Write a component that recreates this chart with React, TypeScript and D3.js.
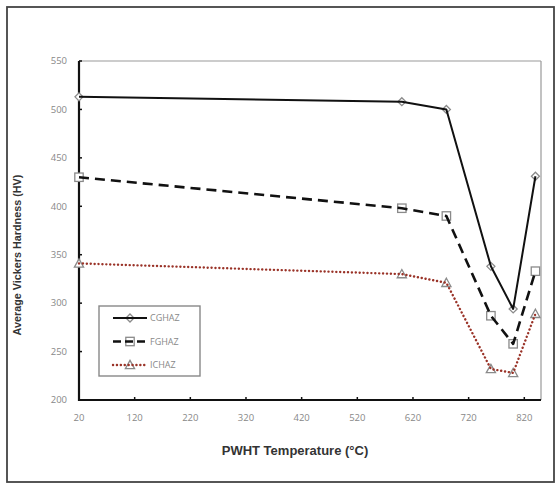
import React from "react";
import * as d3 from "d3";

const temps = [20, 600, 680, 760, 800, 840];
const cghaz = [513, 508, 500, 338, 294, 431];
const fghaz = [430, 398, 390, 287, 258, 333];
const ichaz = [341, 330, 321, 232, 228, 289];
const xTicks = [20, 120, 220, 320, 420, 520, 620, 720, 820];
const yTicks = [200, 250, 300, 350, 400, 450, 500, 550];
const seriesNames = ["CGHAZ", "FGHAZ", "ICHAZ"];

const W = 555, H = 484;
const M = { left: 79, right: 541, top: 61, bottom: 400 };

function marker(kind: string, x: number, y: number, key: string) {
  const stroke = "#8a8a8a";
  if (kind === "diamond") {
    const s = 4;
    return <path key={key} d={`M${x},${y - s}L${x + s},${y}L${x},${y + s}L${x - s},${y}Z`} fill="#fff" stroke={stroke} strokeWidth={1.3} />;
  }
  if (kind === "square") {
    const s = 4.2;
    return <rect key={key} x={x - s} y={y - s} width={2 * s} height={2 * s} fill="#fff" stroke={stroke} strokeWidth={1.3} />;
  }
  const s = 4.6;
  return <path key={key} d={`M${x},${y - s}L${x + s},${y + s * 0.8}L${x - s},${y + s * 0.8}Z`} fill="#fff" stroke={stroke} strokeWidth={1.3} />;
}

export default function App() {
  const x = d3.scaleLinear().domain([20, 850]).range([M.left, M.right]);
  const y = d3.scaleLinear().domain([200, 550]).range([M.bottom, M.top]);
  const line = d3.line<number>().x((_, i) => x(temps[i])).y((d) => y(d));

  const series = [
    { name: seriesNames[0], data: cghaz, color: "#111", dash: undefined as string | undefined, width: 2, marker: "diamond", cap: "butt" },
    { name: seriesNames[1], data: fghaz, color: "#111", dash: "10 6", width: 2.6, marker: "square", cap: "butt" },
    { name: seriesNames[2], data: ichaz, color: "#9a3328", dash: "0.1 3.8", width: 2.4, marker: "triangle", cap: "round" },
  ];

  const tickFont = "'Open Sans', 'Liberation Sans', sans-serif";
  const titleFont = "'Liberation Sans', Arial, sans-serif";

  return (
    <svg width={W} height={H} style={{ position: "absolute", left: 0, top: 0, background: "#fff" }}>
      <rect x={7} y={7} width={547} height={475} fill="#fff" stroke="#444" strokeWidth={1.8} />
      {/* plot frame */}
      <line x1={M.left} x2={M.right} y1={M.top} y2={M.top} stroke="#999" strokeWidth={1.2} />
      <line x1={M.right} x2={M.right} y1={M.top} y2={M.bottom} stroke="#999" strokeWidth={1.2} />
      {/* ticks */}
      {yTicks.map((t) => (
        <g key={"y" + t}>
          <line x1={M.left} x2={M.left + 3} y1={y(t)} y2={y(t)} stroke="#111" strokeWidth={1.5} />
          <text x={67} y={y(t)} dy="0.35em" textAnchor="end" fontSize={9.5} fill="#888" fontFamily={tickFont}>{t}</text>
        </g>
      ))}
      {xTicks.map((t) => (
        <g key={"x" + t}>
          <line x1={x(t)} x2={x(t)} y1={M.bottom} y2={M.bottom - 3} stroke="#111" strokeWidth={1.5} />
          <text x={x(t)} y={421} textAnchor="middle" fontSize={9.5} fill="#888" fontFamily={tickFont}>{t}</text>
        </g>
      ))}
      {/* axes */}
      <line x1={M.left} x2={M.left} y1={M.top} y2={M.bottom + 1} stroke="#111" strokeWidth={2.2} />
      <line x1={M.left - 1} x2={M.right} y1={M.bottom} y2={M.bottom} stroke="#111" strokeWidth={2.2} />
      {/* series */}
      {series.map((s) => (
        <g key={s.name}>
          {s.data.map((d, i) => marker(s.marker, x(temps[i]), y(d), s.name + i))}
          <path d={line(s.data) || ""} fill="none" stroke={s.color} strokeWidth={s.width} strokeDasharray={s.dash} strokeLinecap={s.cap as any} strokeLinejoin="round" />
        </g>
      ))}
      {/* legend */}
      <rect x={99} y={306} width={101} height={70} fill="#fff" stroke="#888" strokeWidth={1.4} />
      {series.map((s, i) => {
        const ly = 318 + i * 23.5;
        return (
          <g key={"lg" + s.name}>
            {marker(s.marker, 130, ly, "lm" + i)}
            <line x1={113} x2={147} y1={ly} y2={ly} stroke={s.color} strokeWidth={s.width} strokeDasharray={s.dash ? (i === 1 ? "8 4" : s.dash) : undefined} strokeLinecap={s.cap as any} />
            <text x={150} y={ly} dy="0.35em" fontSize={9} fill="#888" fontFamily={tickFont}>{s.name}</text>
          </g>
        );
      })}
      {/* titles */}
      <text x={295} y={455} textAnchor="middle" fontSize={13} fontWeight="bold" fill="#333" fontFamily={titleFont}>PWHT Temperature (°C)</text>
      <text transform={`translate(21,255) rotate(-90)`} textAnchor="middle" fontSize={10.8} fontWeight="bold" fill="#333" fontFamily={titleFont}>Average Vickers Hardness (HV)</text>
    </svg>
  );
}
